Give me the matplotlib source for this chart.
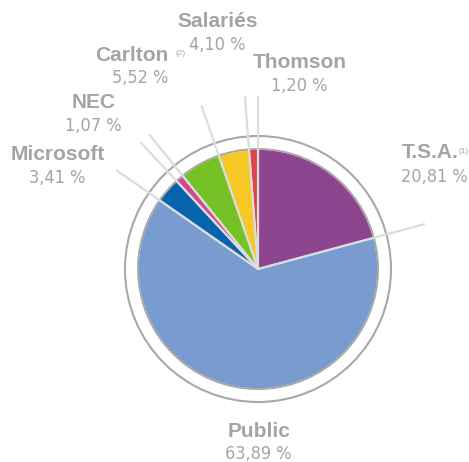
import numpy as np
import matplotlib.pyplot as plt
from matplotlib.patches import Circle

# shareholders, counter-clockwise from the top
names = ['Thomson', 'Salariés', 'Carlton', 'NEC', 'Microsoft', 'Public', 'T.S.A.']
shares = [1.20, 4.10, 5.52, 1.07, 3.41, 63.89, 20.81]
pct_labels = ['1,20 %', '4,10 %', '5,52 %', '1,07 %', '3,41 %', '63,89 %', '20,81 %']
notes = {'Carlton': '(2)', 'T.S.A.': '(1)'}
colors = ['#e2434b', '#f5c825', '#76c226', '#d0488f', '#0763ad', '#789ccf', '#8e4590']

# label anchor points (pixels from top-left, baseline of the name)
label_pos = {
    'Thomson': (300, 68), 'Salariés': (218, 27), 'Carlton': (132, 61),
    'NEC': (94, 108), 'Microsoft': (58, 160), 'Public': (259, 437),
    'T.S.A.': (430, 158),
}
pct_pos = {
    'Thomson': (299, 91), 'Salariés': (217, 50), 'Carlton': (140, 83),
    'NEC': (93, 131), 'Microsoft': (57, 183), 'Public': (258, 459),
    'T.S.A.': (434, 182),
}
note_pos = {'Carlton': (181, 55), 'T.S.A.': (464, 153)}

W, H = 469, 462
cx, cy, r = 258, H - 269, 120
grey = '#a4a4a4'

fig = plt.figure(figsize=(W / 100, H / 100), dpi=100)
ax = fig.add_axes([0, 0, 1, 1])
ax.pie(shares, colors=colors, startangle=90, counterclock=True,
       center=(cx, cy), radius=r,
       wedgeprops=dict(edgecolor='#dcdcdc', linewidth=1.2))
ax.add_patch(Circle((cx, cy), r, fill=False, ec='#a8a8a8', lw=1.3, zorder=3))
ax.add_patch(Circle((cx, cy), 133, fill=False, ec='#a8a8a8', lw=1.5, zorder=3))

# leader lines along slice boundaries
bounds = 90 + 3.6 * np.concatenate([[0], np.cumsum(shares)[:-1]])
for a in np.radians(bounds):
    ax.plot([cx, cx + 173 * np.cos(a)], [cy, cy + 173 * np.sin(a)],
            color='#dcdcdc', lw=1.6, solid_capstyle='butt', zorder=4)

for n, p in zip(names, pct_labels):
    x, y = label_pos[n]
    ax.text(x, H - y, n, ha='center', va='baseline', fontsize=15,
            fontweight='bold', color=grey, family=['Liberation Sans', 'DejaVu Sans'])
    x, y = pct_pos[n]
    ax.text(x, H - y, p, ha='center', va='baseline', fontsize=13,
            color=grey, family='DejaVu Sans', fontstretch='condensed')
    if n in notes:
        x, y = note_pos[n]
        ax.text(x, H - y, notes[n], ha='center', va='baseline', fontsize=6,
                color=grey, family=['Liberation Sans', 'DejaVu Sans'])

ax.set_xlim(0, W)
ax.set_ylim(0, H)
ax.set_aspect('equal')
ax.axis('off')
fig.savefig('out.png', dpi=100)
